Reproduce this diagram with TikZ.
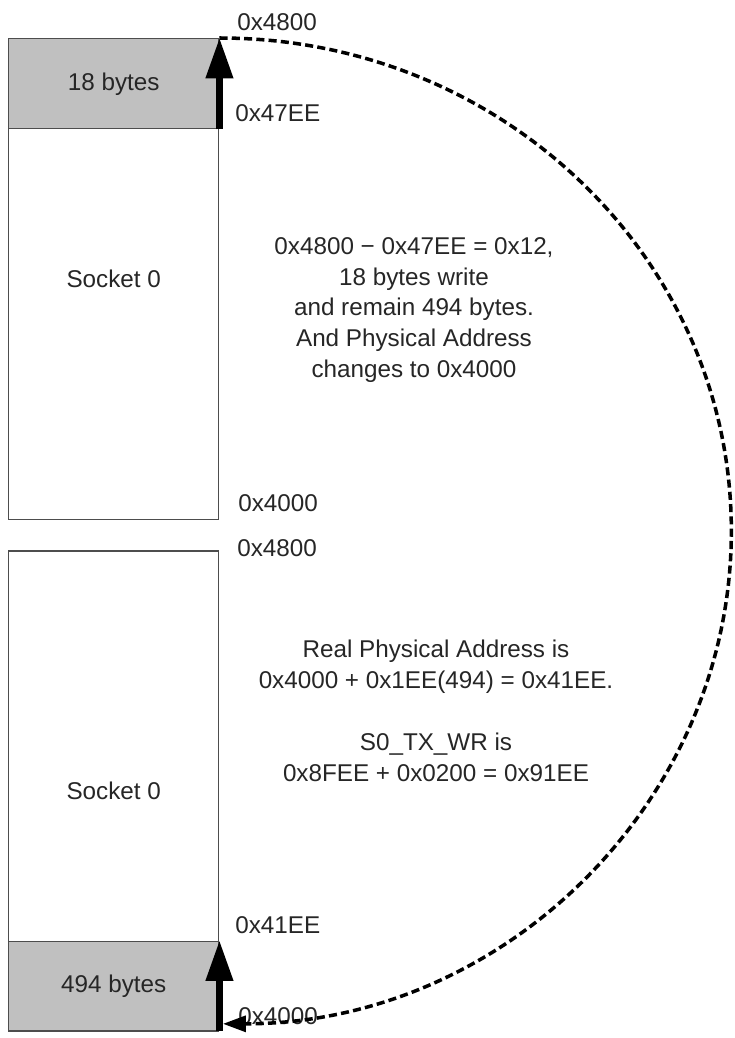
\documentclass[tikz,border=0pt]{standalone}
\usepackage{fontspec}
\setmainfont{Liberation Sans}
\usepackage{tikz}
\usetikzlibrary{arrows.meta}
\usepackage{xcolor}
\definecolor{memedge}{HTML}{4D4D4D}
\definecolor{memfill}{HTML}{C0C0C0}
\definecolor{memtext}{HTML}{262626}

\begin{document}
\begin{tikzpicture}[x=0.02cm, y=-0.02cm,
    font=\fontsize{13.8}{17.6}\selectfont, text=memtext,
    memblock/.style={draw=memedge, line width=0.85pt, fill=white,
      minimum width=4.2cm, inner sep=0pt},
    usedblock/.style={memblock, fill=memfill},
    addr/.style={anchor=base west, inner sep=0pt},
    note/.style={align=center, inner sep=0pt},
    bigarrow/.style={line width=3.6pt, -{Triangle[length=23pt, width=15pt]}},
    wraparc/.style={line width=2pt, dash pattern=on 4.6pt off 2.4pt,
      -{Triangle[length=13pt, width=9pt]}, shorten >=2pt}]
    \useasboundingbox (0,0) rectangle (734,1038);
    % first write: socket buffer before wrap
    \node[memblock, anchor=north west, minimum height=9.62cm] (sockA) at (8,38) {Socket 0};
    \node[usedblock, anchor=north west, minimum height=1.8cm] (usedA) at (8,38) {18 bytes};
    % second write: after wrap around
    \node[memblock, anchor=north west, minimum height=9.62cm] (sockB) at (8,550) {Socket 0};
    \node[usedblock, anchor=south west, minimum height=1.78cm] (usedB) at (8,1031) {494 bytes};
    % addresses
    \node[addr] (topA) at (237,30) {0x4800};
    \node[addr] (ptrA) at (235,121) {0x47EE};
    \node[addr] (baseA) at (238,511) {0x4000};
    \node[addr] (topB) at (237,556) {0x4800};
    \node[addr] (ptrB) at (235,933) {0x41EE};
    \node[addr] (baseB) at (238,1024) {0x4000};
    % notes
    \node[note] (noteA) at (414,310)
      {0x4800 − 0x47EE = 0x12,\\18 bytes write\\and remain 494 bytes.\\And Physical Address\\changes to 0x4000};
    \node[note] (noteB) at (436,711)
      {Real Physical Address is\\0x4000 + 0x1EE(494) = 0x41EE.\\[17.6pt]S0\_TX\_WR is\\0x8FEE + 0x0200 = 0x91EE};
    % arrows
    \draw[bigarrow] (usedA.south east) -- (usedA.north east);
    \draw[bigarrow] (usedB.south east) -- (usedB.north east);
    \draw[wraparc] (usedA.north east) arc[start angle=90, end angle=-90,
      x radius=10.24cm, y radius=9.86cm];
\end{tikzpicture}
\end{document}
